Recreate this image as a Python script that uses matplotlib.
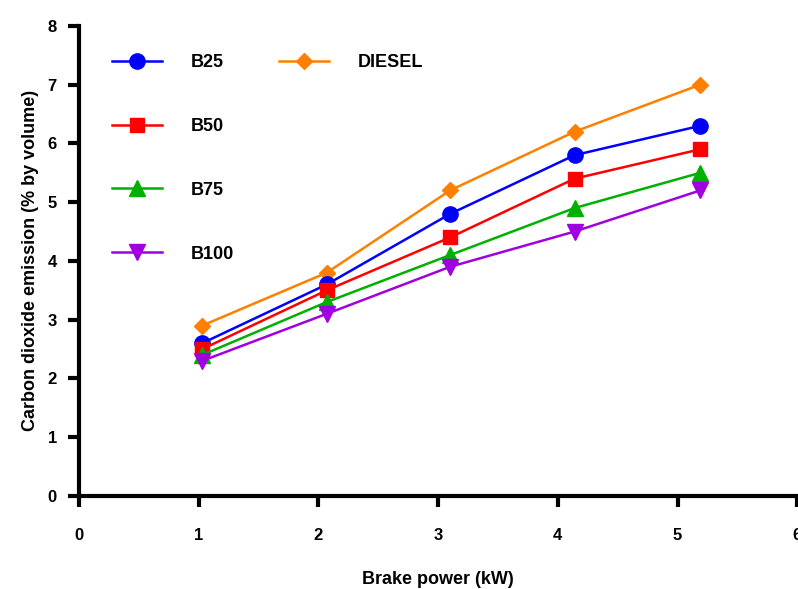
import matplotlib
matplotlib.use("Agg")
import matplotlib.pyplot as plt

plt.rcParams['font.family'] = ['Liberation Sans', 'DejaVu Sans']
plt.rcParams['font.weight'] = 'bold'

# brake power (kW)
power = [1.03, 2.07, 3.10, 4.14, 5.19]

# CO2 emission (% by volume)
b25 = [2.6, 3.6, 4.8, 5.8, 6.3]
b50 = [2.5, 3.5, 4.4, 5.4, 5.9]
b75 = [2.4, 3.3, 4.1, 4.9, 5.5]
b100 = [2.3, 3.1, 3.9, 4.5, 5.2]
diesel = [2.9, 3.8, 5.2, 6.2, 7.0]

fig = plt.figure(figsize=(7.98, 5.89), dpi=100)
ax = fig.add_axes([0.099, 0.158, 0.9, 0.798])

l_d, = ax.plot(power, diesel, color='#ff8000', marker='D', ms=8, lw=1.8, label='DIESEL')
l25, = ax.plot(power, b25, color='#0000ff', marker='o', ms=11, lw=1.8, label='B25')
l50, = ax.plot(power, b50, color='#ff0000', marker='s', ms=10, lw=1.8, label='B50')
l75, = ax.plot(power, b75, color='#00b000', marker='^', ms=11, lw=1.8, label='B75')
l100, = ax.plot(power, b100, color='#a000e0', marker='v', ms=11, lw=1.8, label='B100')

blank = plt.Line2D([], [], alpha=0)
leg = ax.legend([l25, l50, l75, l100, l_d, blank, blank, blank],
                ['B25', 'B50', 'B75', 'B100', 'DIESEL', '', '', ''],
                ncol=2, loc='upper left', bbox_to_anchor=(0.023, 0.975),
                frameon=False, labelspacing=2.6, handlelength=2.8,
                handletextpad=1.6, columnspacing=2.45, fontsize=13)

ax.set_xlim(0, 6)
ax.set_ylim(0, 8)
ax.set_xticks(range(0, 7))
ax.set_yticks(range(0, 9))
for s in ['top', 'right']:
    ax.spines[s].set_visible(False)
for s in ['left', 'bottom']:
    ax.spines[s].set_linewidth(3)
ax.tick_params(width=3, length=8, labelsize=12, direction='out', pad=8)
ax.tick_params(axis='x', pad=15)
for t in ax.get_xticklabels() + ax.get_yticklabels():
    t.set_fontweight('bold')

ax.set_xlabel('Brake power (kW)', fontsize=13, fontweight='bold', labelpad=20)
ax.set_ylabel('Carbon dioxide emission (% by volume)', fontsize=13,
              fontweight='bold', labelpad=6)

fig.savefig('out.png', dpi=100)
